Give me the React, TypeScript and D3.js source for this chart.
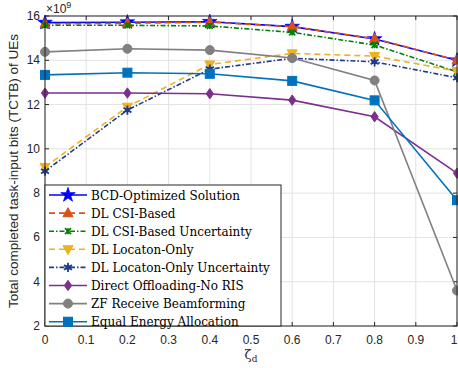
import React from "react";
import * as d3 from "d3";

const xValues = [0, 0.2, 0.4, 0.6, 0.8, 1];
const bcd = [15.7, 15.72, 15.74, 15.52, 14.96, 14.0];
const dlCsi = [15.65, 15.67, 15.72, 15.52, 14.98, 14.0];
const dlCsiUnc = [15.58, 15.58, 15.55, 15.26, 14.69, 13.48];
const dlLoc = [9.18, 11.9, 13.81, 14.31, 14.19, 13.51];
const dlLocUnc = [8.99, 11.75, 13.6, 14.09, 13.93, 13.21];
const direct = [12.52, 12.52, 12.49, 12.2, 11.45, 8.9];
const zf = [14.38, 14.52, 14.46, 14.1, 13.09, 3.6];
const equal = [13.34, 13.44, 13.39, 13.07, 12.19, 7.68];

const seriesNames = [
  "BCD-Optimized Solution",
  "DL CSI-Based",
  "DL CSI-Based Uncertainty",
  "DL Locaton-Only",
  "DL Locaton-Only Uncertainty",
  "Direct Offloading-No RIS",
  "ZF Receive Beamforming",
  "Equal Energy Allocation",
];
const xTicks = [0, 0.1, 0.2, 0.3, 0.4, 0.5, 0.6, 0.7, 0.8, 0.9, 1];
const yTicks = [2, 4, 6, 8, 10, 12, 14, 16];

type Style = { color: string; dash: string; marker: string; size: number };
const styles: Style[] = [
  { color: "#0000FF", dash: "", marker: "star", size: 8.5 },
  { color: "#D95319", dash: "6,4", marker: "tri", size: 10 },
  { color: "#008000", dash: "5,2,1.5,2", marker: "x", size: 6 },
  { color: "#EDB120", dash: "6,4", marker: "tridown", size: 10 },
  { color: "#1F3B8C", dash: "5,2,1.5,2", marker: "hex", size: 7 },
  { color: "#7E2F8E", dash: "", marker: "diamond", size: 9 },
  { color: "#808080", dash: "", marker: "circle", size: 9 },
  { color: "#0072BD", dash: "", marker: "square", size: 9 },
];
const allData = [bcd, dlCsi, dlCsiUnc, dlLoc, dlLocUnc, direct, zf, equal];

const W = 458, H = 368;
const L = 45, R = 457, T = 16, B = 326;

function Marker({ type, x, y, color, size }: { type: string; x: number; y: number; color: string; size: number }) {
  const s = size;
  if (type === "star") {
    const p = d3.symbol().type(d3.symbolStar).size(s * s * 0.9)();
    return <path d={p || ""} transform={`translate(${x},${y})`} fill={color} stroke={color} strokeWidth={0.8} />;
  }
  if (type === "tri") {
    const h = s * 0.9;
    return <path d={`M${x},${y - h * 0.6}L${x + s / 2},${y + h * 0.4}L${x - s / 2},${y + h * 0.4}Z`} fill={color} stroke={color} />;
  }
  if (type === "tridown") {
    const h = s * 0.9;
    return <path d={`M${x},${y + h * 0.6}L${x + s / 2},${y - h * 0.4}L${x - s / 2},${y - h * 0.4}Z`} fill={color} stroke={color} />;
  }
  if (type === "x") {
    const a = s / 2;
    return (
      <g stroke={color} strokeWidth={1.8}>
        <line x1={x - a} y1={y - a} x2={x + a} y2={y + a} />
        <line x1={x - a} y1={y + a} x2={x + a} y2={y - a} />
        <line x1={x} y1={y - a} x2={x} y2={y + a} />
      </g>
    );
  }
  if (type === "hex") {
    const p = d3.symbol().type(d3.symbolAsterisk).size(s * s * 1.2)();
    return (
      <g>
        <circle cx={x} cy={y} r={s * 0.35} fill={color} />
        <path d={p || ""} transform={`translate(${x},${y})`} fill="none" stroke={color} strokeWidth={1.8} />
      </g>
    );
  }
  if (type === "diamond") {
    const a = s / 2;
    return <path d={`M${x},${y - a * 1.15}L${x + a * 0.8},${y}L${x},${y + a * 1.15}L${x - a * 0.8},${y}Z`} fill={color} stroke={color} />;
  }
  if (type === "circle") {
    return <circle cx={x} cy={y} r={s / 2} fill={color} stroke={color} />;
  }
  const a = s / 2;
  return <rect x={x - a} y={y - a} width={s} height={s} fill={color} stroke={color} />;
}

export default function App() {
  const x = d3.scaleLinear().domain([0, 1]).range([L, R]);
  const y = d3.scaleLinear().domain([2, 16]).range([B, T]);
  const line = d3.line<number>().x((_, i) => x(xValues[i])).y((d) => y(d));

  const legX = L, legY = 185, legW = 236, legH = B - 185;
  const rowH = 18.1;

  return (
    <svg width={W} height={H} style={{ position: "absolute", left: 0, top: 0, background: "#fff" }}>
      <rect x={0} y={0} width={W} height={H} fill="#fff" />
      {xTicks.map((t) => (
        <line key={"gx" + t} x1={x(t)} x2={x(t)} y1={T} y2={B} stroke="#e3e3e3" strokeWidth={1} />
      ))}
      {yTicks.map((t) => (
        <line key={"gy" + t} x1={L} x2={R} y1={y(t)} y2={y(t)} stroke="#e3e3e3" strokeWidth={1} />
      ))}
      {xTicks.map((t) => (
        <g key={"tx" + t} stroke="#262626" strokeWidth={1}>
          <line x1={x(t)} x2={x(t)} y1={B} y2={B - 4} />
          <line x1={x(t)} x2={x(t)} y1={T} y2={T + 4} />
        </g>
      ))}
      {yTicks.map((t) => (
        <g key={"ty" + t} stroke="#262626" strokeWidth={1}>
          <line x1={L} x2={L + 4} y1={y(t)} y2={y(t)} />
          <line x1={R} x2={R - 4} y1={y(t)} y2={y(t)} />
        </g>
      ))}
      {allData.map((data, si) => {
        const st = styles[si];
        return (
          <g key={"s" + si}>
            <path d={line(data) || ""} fill="none" stroke={st.color} strokeWidth={1.6} strokeDasharray={st.dash} />
            {data.map((v, i) => (
              <Marker key={i} type={st.marker} x={x(xValues[i])} y={y(v)} color={st.color} size={st.size} />
            ))}
          </g>
        );
      })}
      <rect x={L} y={T} width={R - L} height={B - T} fill="none" stroke="#262626" strokeWidth={1} />
      {xTicks.map((t) => (
        <text key={"lx" + t} x={t === 1 ? W - 0.5 : x(t)} y={B + 18} textAnchor={t === 1 ? "end" : "middle"} fontFamily="Liberation Sans, Arial, sans-serif" fontSize={12} fill="#262626">
          {String(t)}
        </text>
      ))}
      {yTicks.map((t) => (
        <text key={"ly" + t} x={L - 5} y={y(t) + 4} textAnchor="end" fontFamily="Liberation Sans, Arial, sans-serif" fontSize={12} fill="#262626">
          {t}
        </text>
      ))}
      <text x={46} y={13} fontFamily="Liberation Sans, Arial, sans-serif" fontSize={12} fill="#262626">
        ×10<tspan dy={-5} fontSize={9}>9</tspan>
      </text>
      <text transform={`translate(18,${(T + B) / 2}) rotate(-90)`} textAnchor="middle" fontFamily="Liberation Sans, Arial, sans-serif" fontSize={13.5} fill="#262626">
        Total completed task-input bits (TCTB) of UEs
      </text>
      <text x={x(0.5)} y={B + 33} textAnchor="middle" fontFamily="DejaVu Serif, serif" fontSize={13} fill="#262626">
        ζ<tspan fontSize={9} dy={3}>d</tspan>
      </text>
      <rect x={legX} y={legY} width={legW} height={legH} fill="#fff" stroke="#262626" strokeWidth={1} />
      {seriesNames.map((name, i) => {
        const st = styles[i];
        const cy = legY + 10 + i * rowH;
        return (
          <g key={"lg" + i}>
            <line x1={legX + 4} x2={legX + 42} y1={cy} y2={cy} stroke={st.color} strokeWidth={1.6} strokeDasharray={st.dash} />
            <Marker type={st.marker} x={legX + 23} y={cy} color={st.color} size={st.size} />
            <text x={legX + 46} y={cy + 4.5} fontFamily="DejaVu Serif, serif" fontSize={12} fill="#000">
              {name}
            </text>
          </g>
        );
      })}
    </svg>
  );
}
